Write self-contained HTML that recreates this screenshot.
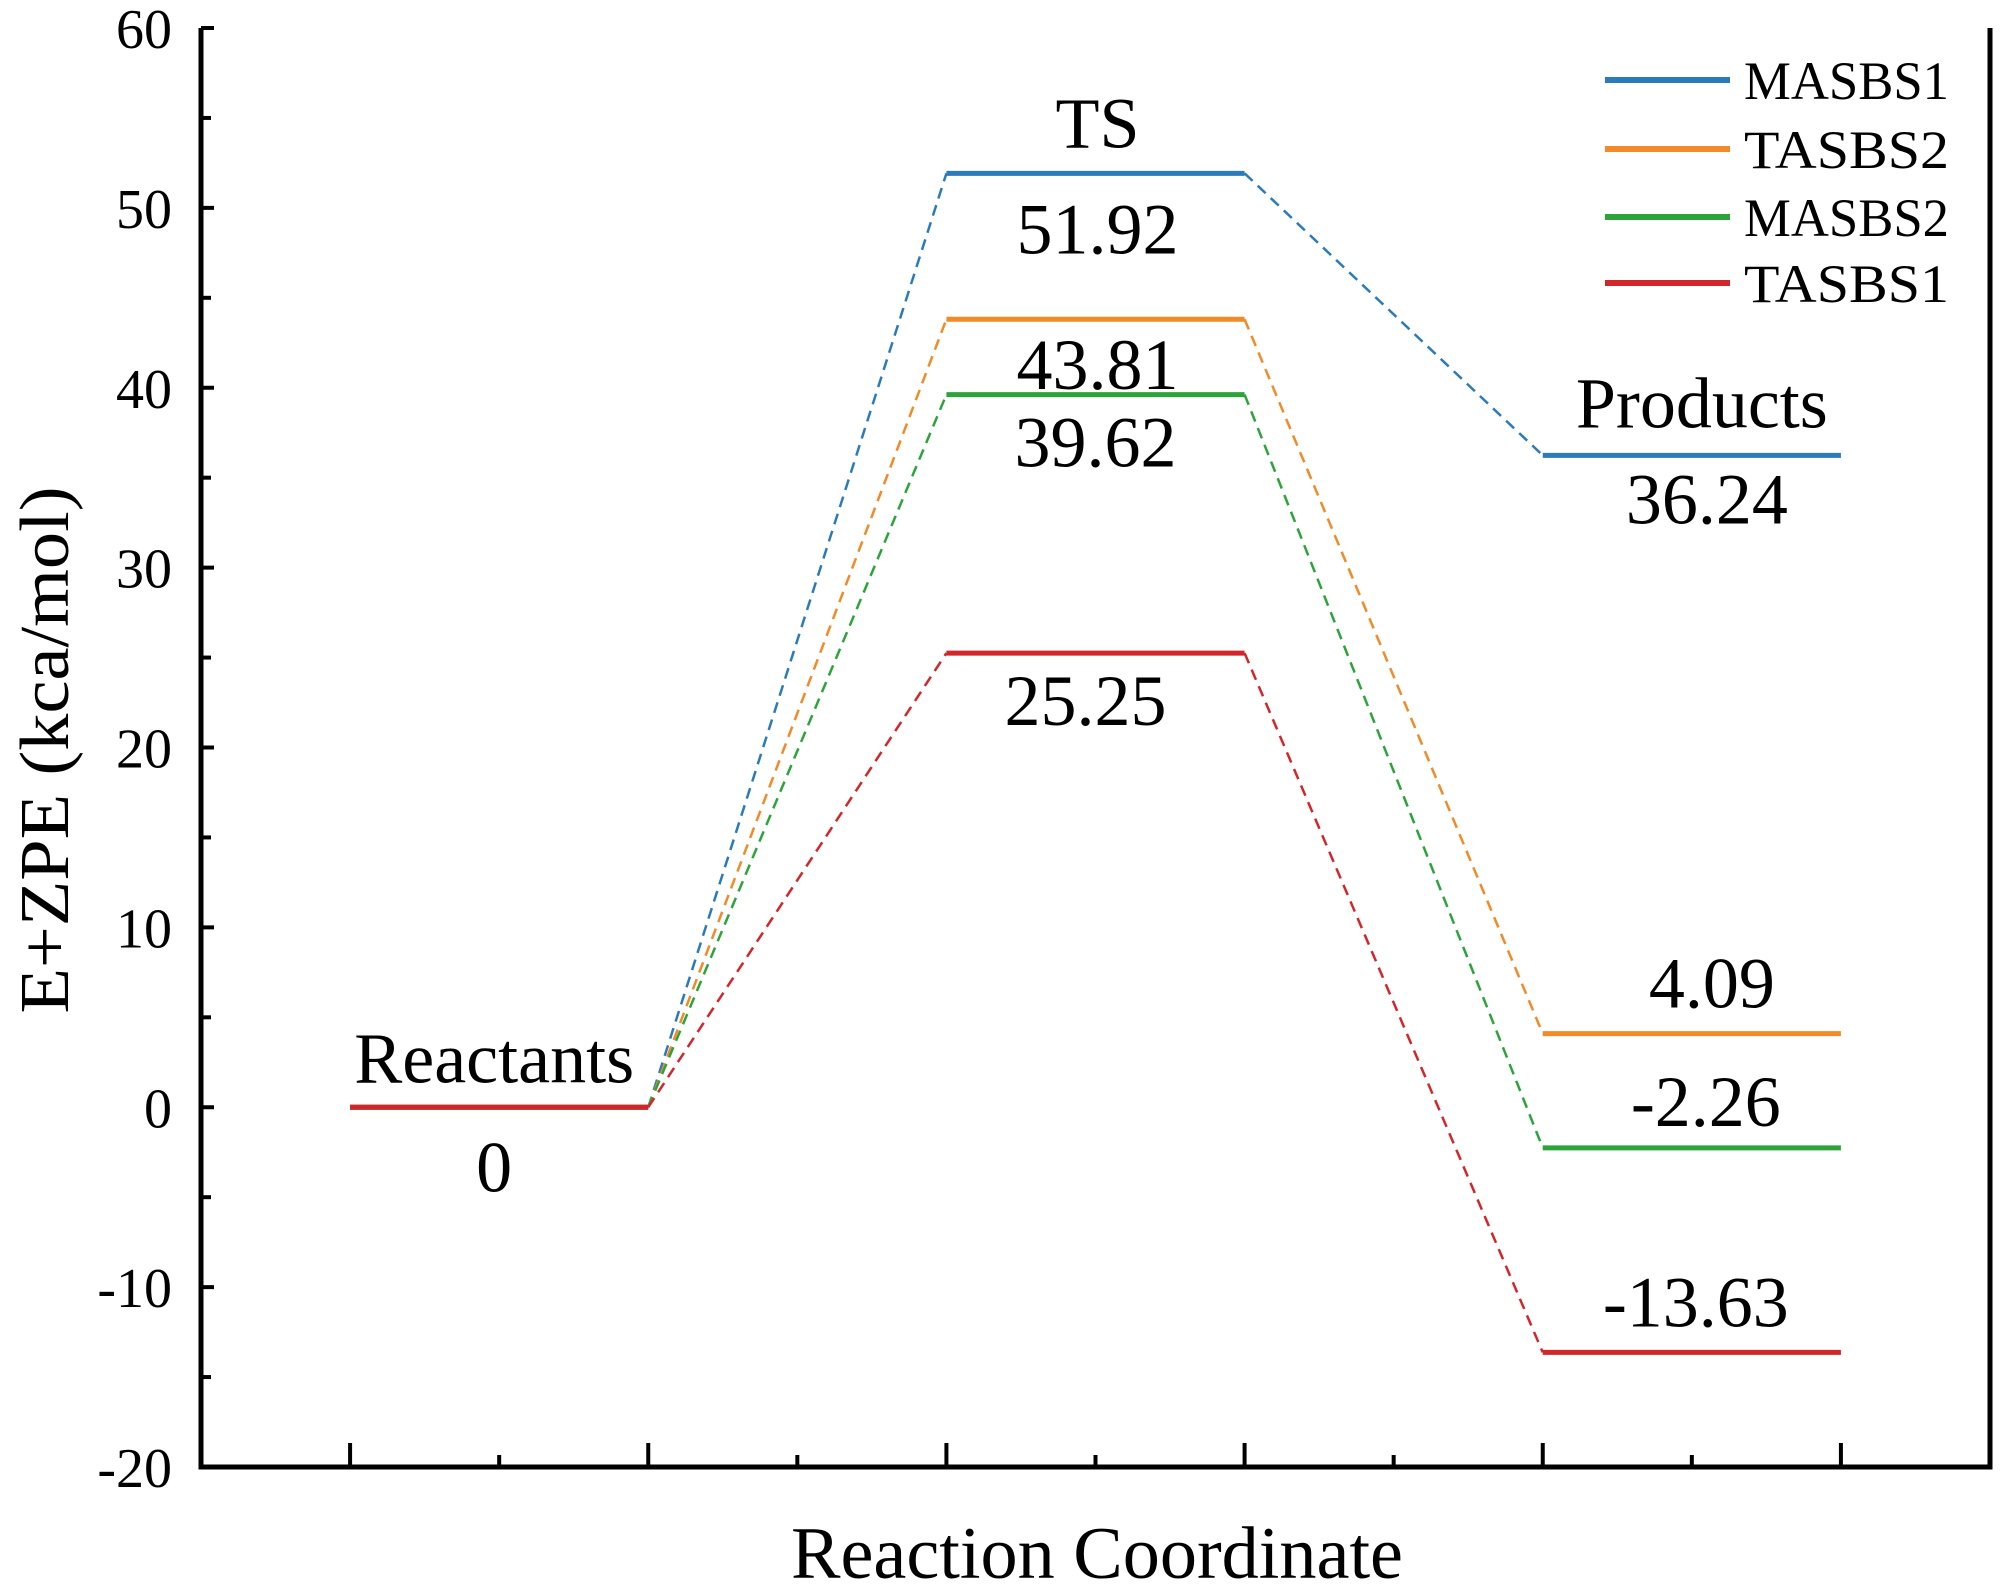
<!DOCTYPE html>
<html><head><meta charset="utf-8"><style>
html,body{margin:0;padding:0;background:#fff;}
svg{display:block;}
text{font-family:"Liberation Serif","DejaVu Serif",serif;}
</style></head><body>
<svg id="chart" width="2000" height="1588" viewBox="0 0 2000 1588" xmlns="http://www.w3.org/2000/svg">
<rect width="2000" height="1588" fill="#fff"/>
<g id="marks"></g>
<g id="axes"></g>
<text font-family="Liberation Serif, serif" x="1097" y="1578" font-size="74" text-anchor="middle" textLength="612" lengthAdjust="spacingAndGlyphs">Reaction Coordinate</text>
<text font-family="Liberation Serif, serif" transform="translate(68,750) rotate(-90)" font-size="70" text-anchor="middle" textLength="527" lengthAdjust="spacingAndGlyphs">E+ZPE (kca/mol)</text>
<g id="legend"></g>
</svg>
<script>
const stages = ["Reactants", "TS", "Products"];
const seriesNames = ["MASBS1", "TASBS2", "MASBS2", "TASBS1"];
const masbs1 = [0, 51.92, 36.24];
const tasbs2 = [0, 43.81, 4.09];
const masbs2 = [0, 39.62, -2.26];
const tasbs1 = [0, 25.25, -13.63];
const yTicks = [-20, -10, 0, 10, 20, 30, 40, 50, 60];
const seriesColors = ["#2b7bba", "#f28a28", "#2ca43a", "#d3262b"];
const seriesValues = [masbs1, tasbs2, masbs2, tasbs1];

const NS = "http://www.w3.org/2000/svg";
const L = 201, R = 1990, T = 28, B = 1467;
const xMin = 0.5, xMax = 6.5, yMin = -20, yMax = 60;
function xs(v){ return L + (v - xMin) / (xMax - xMin) * (R - L); }
function ys(v){ return B - (v - yMin) / (yMax - yMin) * (B - T); }
function mk(tag, attrs, parent){
  const e = document.createElementNS(NS, tag);
  for (const k in attrs) e.setAttribute(k, attrs[k]);
  if (tag === "text") e.setAttribute("font-family", "Liberation Serif, serif");
  parent.appendChild(e); return e;
}
const marks = document.getElementById("marks");
const axes = document.getElementById("axes");
const legend = document.getElementById("legend");

seriesValues.forEach((vals, si) => {
  const c = seriesColors[si];
  for (let i = 0; i < vals.length; i++) {
    const x0 = xs(2 * i + 1), x1 = xs(2 * i + 2);
    const ln = mk("line", {x1: x0, x2: x1, y1: ys(vals[i]), y2: ys(vals[i]), stroke: c, "stroke-width": 5}, marks);
    
    
    if (i < vals.length - 1) {
      const d = mk("line", {x1: x1, y1: ys(vals[i]), x2: xs(2 * i + 3), y2: ys(vals[i + 1]), stroke: c, "stroke-width": 2.5, "stroke-dasharray": "11,7"}, marks);
      
      
    }
  }
});

function label(txt, x, y, name, fs){
  const t = mk("text", {x: x, y: y, "font-size": fs || 72, "text-anchor": "middle"}, marks);
  t.textContent = txt;
  
  
}
const cx = i => (xs(2 * i + 1) + xs(2 * i + 2)) / 2;
label("Reactants", cx(0) - 5, ys(0) - 25, "stage-label-reactants");
label(String(masbs1[0]), cx(0) - 5, ys(0) + 84, "value-label-reactants");
label("TS", cx(1) + 2, ys(masbs1[1]) - 26, "stage-label-ts");
label(masbs1[1].toFixed(2), cx(1) + 2, ys(masbs1[1]) + 80, "value-label-ts-masbs1");
label(tasbs2[1].toFixed(2), cx(1) + 2, ys(tasbs2[1]) + 70, "value-label-ts-tasbs2");
label(masbs2[1].toFixed(2), cx(1), ys(masbs2[1]) + 72, "value-label-ts-masbs2");
label(tasbs1[1].toFixed(2), cx(1) - 10, ys(tasbs1[1]) + 72, "value-label-ts-tasbs1");
label("Products", cx(2) + 10, ys(masbs1[2]) - 28, "stage-label-products");
label(masbs1[2].toFixed(2), cx(2) + 15, ys(masbs1[2]) + 68, "value-label-products-masbs1");
label(tasbs2[2].toFixed(2), cx(2) + 20, ys(tasbs2[2]) - 26, "value-label-products-tasbs2");
label(masbs2[2].toFixed(2), cx(2) + 14, ys(masbs2[2]) - 22, "value-label-products-masbs2");
label(tasbs1[2].toFixed(2), cx(2) + 4, ys(tasbs1[2]) - 26, "value-label-products-tasbs1");

const f = mk("path", {d: `M${L},${T} V${B} H${R} V${T}`, fill: "none", stroke: "#000", "stroke-width": 5}, axes);


yTicks.forEach(v => {
  const tk = mk("line", {x1: L, x2: L + 13, y1: ys(v), y2: ys(v), stroke: "#000", "stroke-width": 4}, axes);
  
  
  if (v < yMax) {
    const mn = mk("line", {x1: L, x2: L + 10, y1: ys(v + 5), y2: ys(v + 5), stroke: "#000", "stroke-width": 4}, axes);
    
    
  }
  const t = mk("text", {x: 172, y: ys(v) + 20, "font-size": 56, "text-anchor": "end"}, axes);
  t.textContent = String(v);
  
  
});
for (let i = 1; i <= 6; i++) {
  const tk = mk("line", {x1: xs(i), x2: xs(i), y1: B, y2: B - 24, stroke: "#000", "stroke-width": 4}, axes);
  
  
  if (i < 6) {
    const mn = mk("line", {x1: xs(i + 0.5), x2: xs(i + 0.5), y1: B, y2: B - 12, stroke: "#000", "stroke-width": 4}, axes);
    
    
  }
}
const legY = [80, 149, 217, 283];
seriesNames.forEach((n, i) => {
  const g = mk("g", {}, legend);
  
  
  mk("line", {x1: 1605, x2: 1730, y1: legY[i], y2: legY[i], stroke: seriesColors[i], "stroke-width": 6}, g);
  const t = mk("text", {x: 1744, y: legY[i] + 19, "font-size": 54, textLength: 205, lengthAdjust: "spacingAndGlyphs"}, g);
  t.textContent = n;
});
</script>
</body></html>
